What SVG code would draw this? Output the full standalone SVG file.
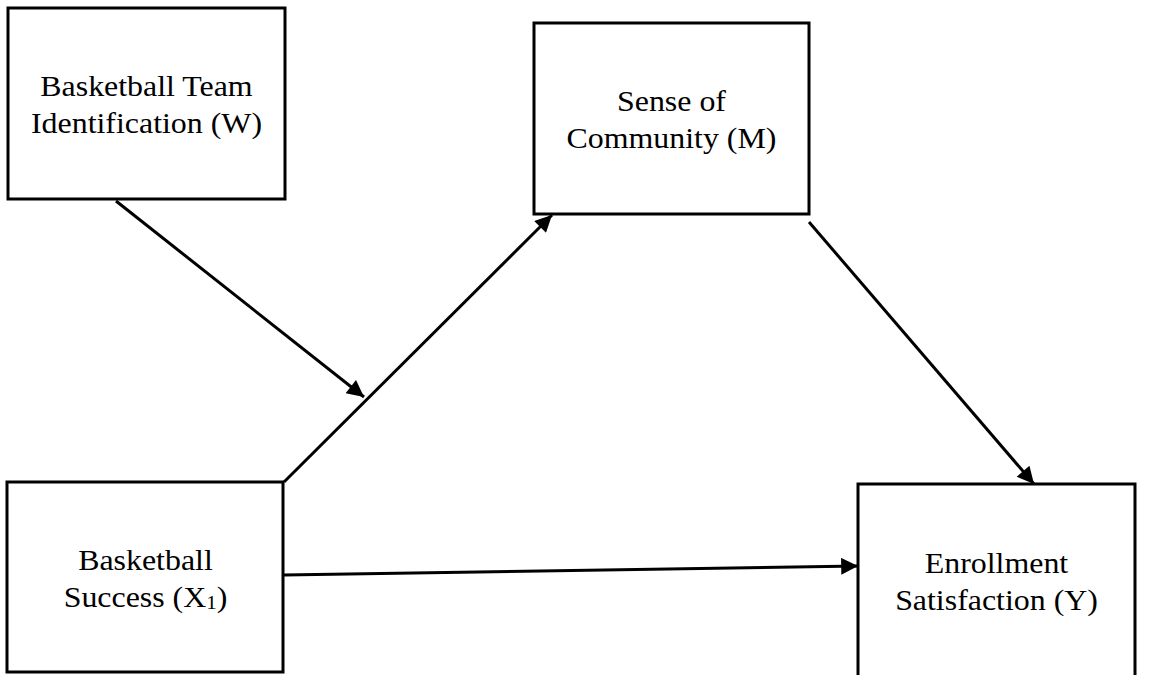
<svg xmlns="http://www.w3.org/2000/svg" width="1149" height="675" viewBox="0 0 1149 675">
  <style>
    .box { fill: #ffffff; stroke: #000000; stroke-width: 3; }
    .label { font-family: "Liberation Serif", "Times New Roman", serif; font-size: 29px; fill: #000000; text-anchor: middle; }
    .sub { font-size: 19px; }
    .edge { stroke: #000000; stroke-width: 3; fill: none; marker-end: url(#arrow); }
  </style>
  <defs>
    <marker id="arrow" viewBox="0 0 10 10" refX="10" refY="5" markerWidth="7" markerHeight="5.6" markerUnits="strokeWidth" orient="auto">
      <path d="M0,0 L10,5 L0,10 z" fill="#000000"/>
    </marker>
  </defs>
  <rect width="1149" height="675" fill="#ffffff"/>

  <g id="connectors">
    <line class="edge" x1="116" y1="201" x2="364" y2="397"/>
    <line class="edge" x1="284" y1="482" x2="552" y2="215"/>
    <line class="edge" x1="809" y1="222" x2="1034" y2="484"/>
    <line class="edge" x1="284" y1="575" x2="858" y2="566"/>
  </g>

  <g id="node-w">
    <rect class="box" x="8" y="8" width="277" height="191"/>
    <g transform="translate(146.5 0) scale(1.1 1)">
      <text class="label" x="0" y="96">Basketball Team</text>
      <text class="label" x="0" y="133">Identification (W)</text>
    </g>
  </g>

  <g id="node-m">
    <rect class="box" x="534" y="23" width="275" height="191"/>
    <g transform="translate(671.5 0) scale(1.1 1)">
      <text class="label" x="0" y="111">Sense of</text>
      <text class="label" x="0" y="148">Community (M)</text>
    </g>
  </g>

  <g id="node-x">
    <rect class="box" x="7" y="482" width="276" height="190"/>
    <g transform="translate(145.5 0) scale(1.1 1)">
      <text class="label" x="0" y="570">Basketball</text>
      <text class="label" x="0" y="607">Success (X<tspan class="sub" dy="2">1</tspan><tspan dy="-2">)</tspan></text>
    </g>
  </g>

  <g id="node-y">
    <rect class="box" x="858" y="484" width="277" height="200"/>
    <g transform="translate(996.5 0) scale(1.1 1)">
      <text class="label" x="0" y="573">Enrollment</text>
      <text class="label" x="0" y="610">Satisfaction (Y)</text>
    </g>
  </g>
</svg>
